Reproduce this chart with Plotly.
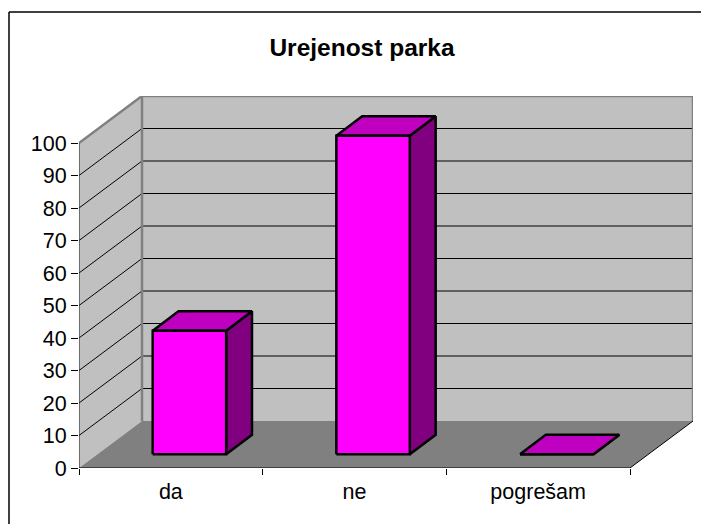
import plotly.graph_objects as go

title = "Urejenost parka"
categories = ["da", "ne", "pogrešam"]
values = [38, 98, 0]
value_ticks = list(range(0, 101, 10))

WALL, FLOOR, EDGE = "#C0C0C0", "#808080", "#808080"
FRONT, TOP, SIDE = "#FF00FF", "#C000C0", "#800080"

n = len(categories)
vmax = 100
# oblique depth offsets, in axis units
DX = 0.343
DY = 14.46
BAR_W = 0.40
Z0, Z1 = 0.295, 0.705


def P(x, v, z=0.0):
    return x + z * DX, v + z * DY


def poly(points, fill=None, line=None, width=1, close=True):
    pts = [P(*p) for p in points]
    if close:
        pts.append(pts[0])
    return go.Scatter(
        x=[p[0] for p in pts], y=[p[1] for p in pts], mode="lines",
        fill="toself" if fill else "none", fillcolor=fill,
        line=dict(color=line or "rgba(0,0,0,0)", width=width),
        hoverinfo="skip", showlegend=False, cliponaxis=False,
    )


fig = go.Figure()
# back wall, side wall, floor
fig.add_trace(poly([(0, 0, 1), (n, 0, 1), (n, vmax, 1), (0, vmax, 1)], fill=WALL))
fig.add_trace(poly([(0, 0, 0), (0, 0, 1), (0, vmax, 1), (0, vmax, 0)], fill=WALL))
fig.add_trace(poly([(0, 0, 0), (n, 0, 0), (n, 0, 1), (0, 0, 1)], fill=FLOOR))

# gridlines
for v in value_ticks[1:-1]:
    fig.add_trace(poly([(0, v, 0), (0, v, 1), (n, v, 1)], line="#000000", width=1, close=False))

# wall edges
fig.add_trace(poly([(0, vmax, 0), (0, vmax, 1), (n, vmax, 1), (n, 0, 1)], line=EDGE, width=2.5, close=False))
fig.add_trace(poly([(0, 0, 1), (0, vmax, 1)], line=EDGE, width=2.5, close=False))

# front axis lines and floor right edge
fig.add_trace(poly([(0, 0, 0), (0, vmax, 0)], line="#333333", width=1.2, close=False))
fig.add_trace(poly([(0, 0, 0), (n, 0, 0), (n, 0, 1)], line="#000000", width=1, close=False))

# bars
for i, v in enumerate(values):
    a = i + 0.5 - BAR_W / 2
    b = i + 0.5 + BAR_W / 2
    fig.add_trace(poly([(b, 0, Z0), (b, 0, Z1), (b, v, Z1), (b, v, Z0)], fill=SIDE, line="#000000", width=2.5))
    fig.add_trace(poly([(a, v, Z0), (b, v, Z0), (b, v, Z1), (a, v, Z1)], fill=TOP, line="#000000", width=2.5))
    fig.add_trace(poly([(a, 0, Z0), (b, 0, Z0), (b, v, Z0), (a, v, Z0)], fill=FRONT, line="#000000", width=2.5))

fig.update_layout(
    width=709, height=524, autosize=False,
    margin=dict(l=71, r=24, t=88, b=64),
    paper_bgcolor="white", plot_bgcolor="white",
    font=dict(family="Liberation Sans, Arial, sans-serif", size=21.5, color="#000000"),
    title=dict(
        text="<b>" + title + "</b>", x=354 / 709, xref="container", xanchor="center",
        y=1 - 39 / 524, yref="container", yanchor="middle",
        font=dict(size=24.5, color="#000000"),
    ),
    xaxis=dict(
        range=[0, n + DX], showgrid=False, zeroline=False, showline=False,
        tickmode="array", tickvals=[i + 0.5 for i in range(n)], ticktext=categories,
        ticks="", ticklabelstandoff=8,
        minor=dict(tickmode="array", tickvals=list(range(n + 1)), ticks="outside",
                   ticklen=6, tickwidth=1, tickcolor="#000000", showgrid=False),
    ),
    yaxis=dict(
        range=[0, vmax + DY], showgrid=False, zeroline=False, showline=False,
        tickmode="array", tickvals=value_ticks, ticktext=[str(t) for t in value_ticks],
        ticks="outside", ticklen=7, tickwidth=1, tickcolor="#000000",
    ),
    shapes=[
        dict(type="line", xref="paper", yref="paper", x0=-70 / 614, x1=640 / 614,
             y0=456 / 372, y1=456 / 372, line=dict(color="#000000", width=1.5)),
        dict(type="line", xref="paper", yref="paper", x0=-70 / 614, x1=-70 / 614,
             y0=-64 / 372, y1=456 / 372, line=dict(color="#000000", width=1.5)),
    ],
)

fig.write_html("out.html")
